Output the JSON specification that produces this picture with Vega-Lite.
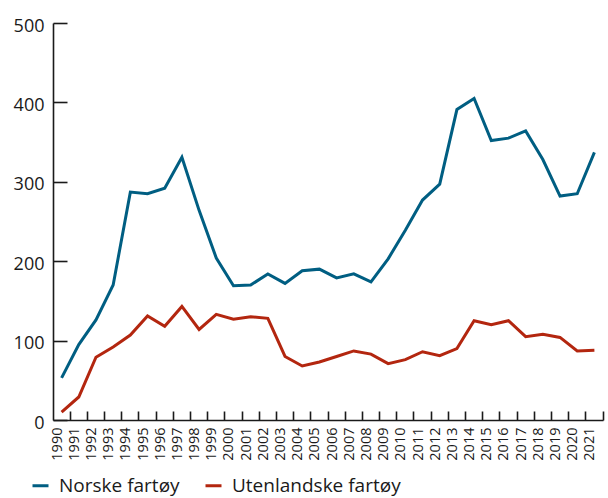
{
  "$schema": "https://vega.github.io/schema/vega-lite/v6.json",
  "autosize": "none",
  "width": 550,
  "height": 397,
  "padding": {"left": 53, "top": 23, "right": 5, "bottom": 78},
  "background": "white",
  "config": {
    "view": {"stroke": null},
    "font": "Open Sans",
    "axis": {"grid": false, "domainColor": "#1a1a1a", "domainWidth": 1.6, "tickColor": "#1a1a1a", "tickWidth": 1.6, "labelColor": "#1a1a1a", "labelFont": "Open Sans", "title": null}
  },
  "data": {
    "values": [
      {"year": "1990", "series": "Norske fartøy", "value": 53},
      {"year": "1991", "series": "Norske fartøy", "value": 95},
      {"year": "1992", "series": "Norske fartøy", "value": 126},
      {"year": "1993", "series": "Norske fartøy", "value": 170},
      {"year": "1994", "series": "Norske fartøy", "value": 287},
      {"year": "1995", "series": "Norske fartøy", "value": 285},
      {"year": "1996", "series": "Norske fartøy", "value": 292},
      {"year": "1997", "series": "Norske fartøy", "value": 331},
      {"year": "1998", "series": "Norske fartøy", "value": 264},
      {"year": "1999", "series": "Norske fartøy", "value": 204},
      {"year": "2000", "series": "Norske fartøy", "value": 169},
      {"year": "2001", "series": "Norske fartøy", "value": 170},
      {"year": "2002", "series": "Norske fartøy", "value": 184},
      {"year": "2003", "series": "Norske fartøy", "value": 172},
      {"year": "2004", "series": "Norske fartøy", "value": 188},
      {"year": "2005", "series": "Norske fartøy", "value": 190},
      {"year": "2006", "series": "Norske fartøy", "value": 179},
      {"year": "2007", "series": "Norske fartøy", "value": 184},
      {"year": "2008", "series": "Norske fartøy", "value": 174},
      {"year": "2009", "series": "Norske fartøy", "value": 203},
      {"year": "2010", "series": "Norske fartøy", "value": 239},
      {"year": "2011", "series": "Norske fartøy", "value": 277},
      {"year": "2012", "series": "Norske fartøy", "value": 297},
      {"year": "2013", "series": "Norske fartøy", "value": 391},
      {"year": "2014", "series": "Norske fartøy", "value": 405},
      {"year": "2015", "series": "Norske fartøy", "value": 352},
      {"year": "2016", "series": "Norske fartøy", "value": 355},
      {"year": "2017", "series": "Norske fartøy", "value": 364},
      {"year": "2018", "series": "Norske fartøy", "value": 328},
      {"year": "2019", "series": "Norske fartøy", "value": 282},
      {"year": "2020", "series": "Norske fartøy", "value": 285},
      {"year": "2021", "series": "Norske fartøy", "value": 337},
      {"year": "1990", "series": "Utenlandske fartøy", "value": 10},
      {"year": "1991", "series": "Utenlandske fartøy", "value": 29},
      {"year": "1992", "series": "Utenlandske fartøy", "value": 79},
      {"year": "1993", "series": "Utenlandske fartøy", "value": 92},
      {"year": "1994", "series": "Utenlandske fartøy", "value": 107},
      {"year": "1995", "series": "Utenlandske fartøy", "value": 131},
      {"year": "1996", "series": "Utenlandske fartøy", "value": 118},
      {"year": "1997", "series": "Utenlandske fartøy", "value": 143},
      {"year": "1998", "series": "Utenlandske fartøy", "value": 114},
      {"year": "1999", "series": "Utenlandske fartøy", "value": 133},
      {"year": "2000", "series": "Utenlandske fartøy", "value": 127},
      {"year": "2001", "series": "Utenlandske fartøy", "value": 130},
      {"year": "2002", "series": "Utenlandske fartøy", "value": 128},
      {"year": "2003", "series": "Utenlandske fartøy", "value": 80},
      {"year": "2004", "series": "Utenlandske fartøy", "value": 68},
      {"year": "2005", "series": "Utenlandske fartøy", "value": 73},
      {"year": "2006", "series": "Utenlandske fartøy", "value": 80},
      {"year": "2007", "series": "Utenlandske fartøy", "value": 87},
      {"year": "2008", "series": "Utenlandske fartøy", "value": 83},
      {"year": "2009", "series": "Utenlandske fartøy", "value": 71},
      {"year": "2010", "series": "Utenlandske fartøy", "value": 76},
      {"year": "2011", "series": "Utenlandske fartøy", "value": 86},
      {"year": "2012", "series": "Utenlandske fartøy", "value": 81},
      {"year": "2013", "series": "Utenlandske fartøy", "value": 90},
      {"year": "2014", "series": "Utenlandske fartøy", "value": 125},
      {"year": "2015", "series": "Utenlandske fartøy", "value": 120},
      {"year": "2016", "series": "Utenlandske fartøy", "value": 125},
      {"year": "2017", "series": "Utenlandske fartøy", "value": 105},
      {"year": "2018", "series": "Utenlandske fartøy", "value": 108},
      {"year": "2019", "series": "Utenlandske fartøy", "value": 104},
      {"year": "2020", "series": "Utenlandske fartøy", "value": 87},
      {"year": "2021", "series": "Utenlandske fartøy", "value": 88}
    ]
  },
  "mark": {"type": "line", "strokeWidth": 3, "strokeJoin": "miter"},
  "encoding": {
    "x": {
      "field": "year",
      "type": "ordinal",
      "scale": {"type": "band", "paddingInner": 0, "paddingOuter": 0},
      "axis": {"bandPosition": 1, "labelAngle": -90, "labelFontSize": 14.5, "tickSize": -9, "labelPadding": 16, "labelOffset": -4}
    },
    "y": {
      "field": "value",
      "type": "quantitative",
      "scale": {"domain": [0, 500], "nice": false},
      "axis": {"values": [0, 100, 200, 300, 400, 500], "tickSize": -14, "labelFontSize": 18, "labelPadding": 23, "labelOffset": 3}
    },
    "color": {
      "field": "series",
      "type": "nominal",
      "scale": {"domain": ["Norske fartøy", "Utenlandske fartøy"], "range": ["#005e82", "#b3260f"]},
      "legend": {"title": null, "orient": "none", "legendX": -22, "legendY": 453, "direction": "horizontal", "symbolType": "stroke", "symbolSize": 256, "symbolStrokeWidth": 3, "labelFontSize": 19, "labelLimit": 400, "labelColor": "#1a1a1a", "labelOffset": 9, "columnPadding": 19, "padding": 0}
    }
  }
}
